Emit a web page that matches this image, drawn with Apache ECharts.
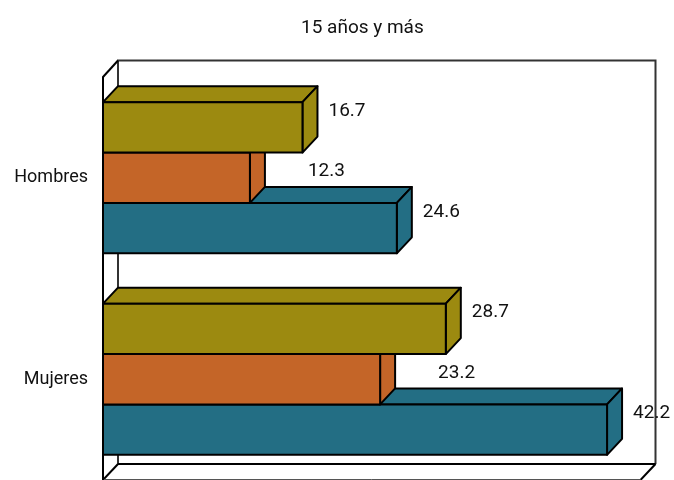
<!DOCTYPE html>
<html><head><meta charset="utf-8">
<style>html,body{margin:0;padding:0;background:#fff}#c{width:674px;height:480px}</style>
<script src="https://cdn.jsdelivr.net/npm/echarts@6/dist/echarts.min.js"></script>
</head><body><div id="c"></div>
<script>
const titleText = '15 años y más';
const categories = ['Hombres', 'Mujeres'];
const tealValues = [24.6, 42.2];
const orangeValues = [12.3, 23.2];
const oliveValues = [16.7, 28.7];
const axisMax = 45;
const FONT = 'Roboto, sans-serif';
const DX = 15, DY = 16, BAR = 0.25;

function bar3d(color, slot, lx, ly) {
  return function (params, api) {
    const v = api.value(0), c = api.value(1);
    const p = api.coord([v, c]);
    const base = api.coord([0, c]);
    const h = api.size([0, 1])[1] * BAR;
    const y0 = p[1] + (slot - 1.5) * h, y1 = y0 + h;
    const x0 = base[0], x1 = p[0];
    const st = { fill: color, stroke: '#000', lineWidth: 2, lineJoin: 'round' };
    return {
      type: 'group',
      children: [
        { type: 'polygon', shape: { points: [[x0, y0], [x0 + DX, y0 - DY], [x1 + DX, y0 - DY], [x1, y0]] }, style: st },
        { type: 'polygon', shape: { points: [[x1, y0], [x1 + DX, y0 - DY], [x1 + DX, y1 - DY], [x1, y1]] }, style: st },
        { type: 'rect', shape: { x: x0, y: y0, width: x1 - x0, height: h }, style: st },
        { type: 'text', z2: 100, style: { x: x1 + lx, y: y0 + ly, text: v.toFixed(1), fill: '#111', font: '19px ' + FONT, align: 'left', verticalAlign: 'middle' } }
      ]
    };
  };
}
function walls(params, api) {
  const a = api.coord([0, 0]), b = api.coord([axisMax, 1]);
  const hh = api.size([0, 1])[1] / 2;
  const l = a[0], r = b[0], t = a[1] - hh, bt = b[1] + hh;
  const st = { stroke: '#000', lineWidth: 2, fill: 'none' };
  const wall = { stroke: '#333', lineWidth: 2, fill: 'none' };
  const bx = r + DX, tx = l + DX, ty = t - DY - 0.5, by = bt - DY;
  return {
    type: 'group', children: [
      { type: 'polyline', shape: { points: [[tx, by], [tx, ty], [bx, ty], [bx, by]] }, style: wall },
      { type: 'polyline', shape: { points: [[tx, by], [bx, by]] }, style: st },
      { type: 'polyline', shape: { points: [[l, t], [tx, ty]] }, style: st },
      { type: 'polyline', shape: { points: [[l, bt], [tx, by]] }, style: st },
      { type: 'polyline', shape: { points: [[r, bt], [bx, by]] }, style: st },
      { type: 'polyline', shape: { points: [[l, bt - 0.5], [r, bt - 0.5]] }, style: { stroke: '#555', lineWidth: 1, fill: 'none' } }
    ]
  };
}
const rows = a => a.map((v, i) => [v, i]);
const chart = echarts.init(document.getElementById('c'), null, { renderer: 'canvas' });
chart.setOption({
  animation: false,
  title: { text: titleText, left: 296, top: 14, textStyle: { fontFamily: FONT, fontSize: 19, fontWeight: 'normal', color: '#111' } },
  grid: { left: 103, top: 77, width: 537.5, height: 403, containLabel: false },
  xAxis: { type: 'value', min: 0, max: axisMax, show: false },
  yAxis: {
    type: 'category', data: categories, inverse: true,
    axisLine: { show: true, lineStyle: { color: '#000', width: 2 } },
    axisTick: { show: false },
    axisLabel: { margin: 15, padding: [2, 0, 0, 0], fontFamily: FONT, fontSize: 18, color: '#111' },
    z: 5
  },
  series: [
    { type: 'custom', clip: false, z: 1, silent: true, data: [[0, 0]], renderItem: walls, encode: { x: 0, y: 1 } },
    { type: 'custom', clip: false, z: 2, data: rows(tealValues), encode: { x: 0, y: 1 }, renderItem: bar3d('#236E84', 2, 26, 9) },
    { type: 'custom', clip: false, z: 3, data: rows(orangeValues), encode: { x: 0, y: 1 }, renderItem: bar3d('#C46528', 1, 58, 19) },
    { type: 'custom', clip: false, z: 4, data: rows(oliveValues), encode: { x: 0, y: 1 }, renderItem: bar3d('#9C8A10', 0, 26, 9) }
  ]
});
</script></body></html>
